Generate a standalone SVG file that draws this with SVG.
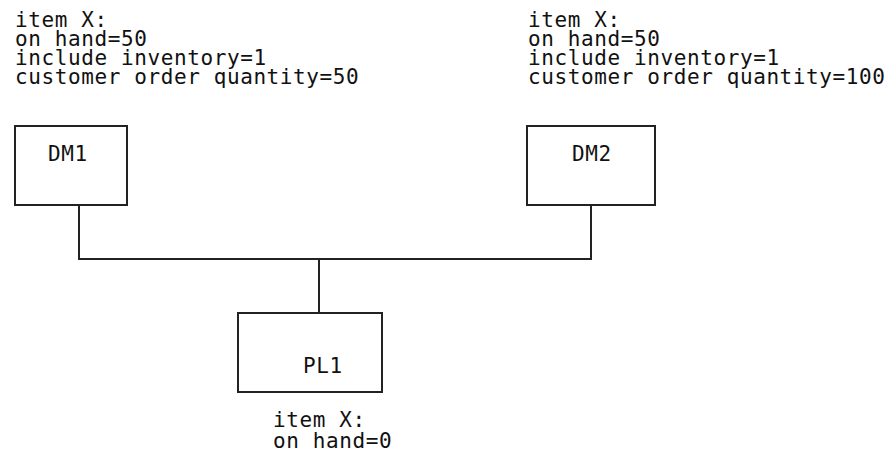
<svg xmlns="http://www.w3.org/2000/svg" width="895" height="460" viewBox="0 0 895 460">
<style>
text{font-family:"DejaVu Sans Mono","Liberation Mono",monospace;font-size:21px;letter-spacing:0.6px;fill:#111}
.box{fill:#fff;stroke:#222;stroke-width:2}
.conn{fill:none;stroke:#222;stroke-width:2}
</style>
<rect width="895" height="460" fill="#fff"/>
<g id="connectors">
<path class="conn" d="M79 205V259H591V205M319 259V313"/>
</g>
<g id="DM1">
<rect class="box" x="15" y="126" width="112" height="79"/>
<text x="48" y="161">DM1</text>
<text x="15" y="27">item X:</text>
<text x="15" y="46">on hand=50</text>
<text x="15" y="65">include inventory=1</text>
<text x="15" y="84">customer order quantity=50</text>
</g>
<g id="DM2">
<rect class="box" x="527" y="126" width="128" height="79"/>
<text x="572" y="161">DM2</text>
<text x="528" y="27">item X:</text>
<text x="528" y="46">on hand=50</text>
<text x="528" y="65">include inventory=1</text>
<text x="528" y="84">customer order quantity=100</text>
</g>
<g id="PL1">
<rect class="box" x="238" y="313" width="144" height="79"/>
<text x="303" y="373">PL1</text>
<text x="273" y="427">item X:</text>
<text x="273" y="448">on hand=0</text>
</g>
</svg>
